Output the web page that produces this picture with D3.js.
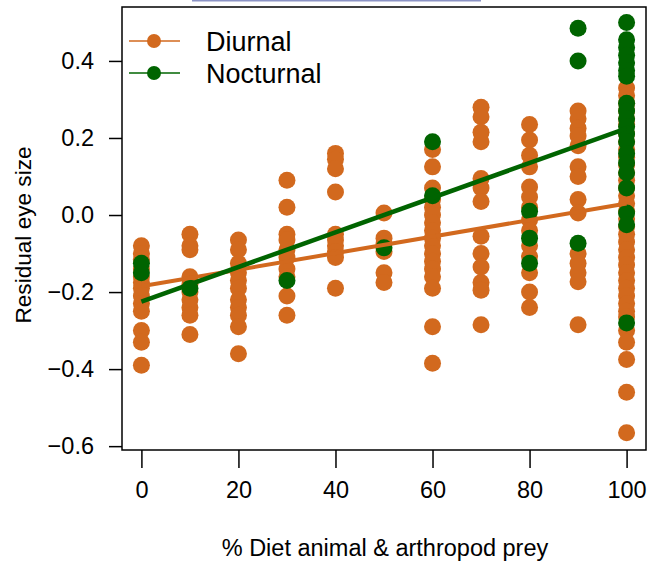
<!DOCTYPE html>
<html>
<head>
<meta charset="utf-8">
<title>Residual eye size vs diet</title>
<style>
  body { margin: 0; background: #fff; }
  svg text { font-family: "Liberation Sans", Arial, Helvetica, sans-serif; fill: #000; }
</style>
</head>
<body>
<div id="chart"></div>
<script src="https://cdn.jsdelivr.net/npm/d3@7"></script>
<script>
// diet levels (% animal & arthropod prey)
const dietLevels = [0, 10, 20, 30, 40, 50, 60, 70, 80, 90, 100];

// residual eye size, one list per diet level
const diurnalByDiet = [
  [-0.08, -0.10, -0.115, -0.14, -0.16, -0.175, -0.19, -0.21, -0.23, -0.25, -0.30, -0.33, -0.39],
  [-0.05, -0.08, -0.09, -0.16, -0.18, -0.20, -0.22, -0.24, -0.26, -0.31],
  [-0.065, -0.09, -0.125, -0.15, -0.17, -0.19, -0.22, -0.24, -0.26, -0.29, -0.36],
  [0.09, 0.02, -0.05, -0.065, -0.09, -0.11, -0.14, -0.16, -0.21, -0.26],
  [0.16, 0.145, 0.12, 0.06, -0.05, -0.065, -0.08, -0.095, -0.11, -0.19],
  [0.005, -0.06, -0.075, -0.095, -0.15, -0.175],
  [0.17, 0.125, 0.07, 0.04, 0.02, 0.0, -0.02, -0.04, -0.06, -0.08, -0.10, -0.12, -0.14, -0.16, -0.19, -0.29, -0.385],
  [0.28, 0.255, 0.215, 0.19, 0.095, 0.07, 0.035, -0.055, -0.10, -0.135, -0.175, -0.195, -0.285],
  [0.235, 0.195, 0.155, 0.125, 0.073, 0.047, 0.02, -0.013, -0.04, -0.08, -0.108, -0.15, -0.2, -0.24],
  [0.27, 0.25, 0.225, 0.205, 0.18, 0.125, 0.10, 0.04, 0.005, -0.10, -0.125, -0.15, -0.173, -0.285],
  [0.33, 0.31, 0.29, 0.27, 0.25, 0.235, 0.21, 0.19, 0.17, 0.15, 0.13, 0.11, 0.09, 0.07, 0.05, 0.03, 0.01,
   -0.01, -0.03, -0.05, -0.07, -0.09, -0.11, -0.13, -0.15, -0.17, -0.19, -0.21, -0.23, -0.25, -0.265,
   -0.30, -0.33, -0.375, -0.46, -0.565]
];

const nocturnalByDiet = [
  [-0.125, -0.15],
  [-0.19],
  [],
  [-0.17],
  [],
  [-0.085],
  [0.19, 0.05],
  [],
  [0.01, -0.06, -0.125],
  [0.485, 0.40, -0.073],
  [0.50, 0.455, 0.435, 0.415, 0.395, 0.375, 0.36, 0.29, 0.27, 0.25, 0.23, 0.21, 0.19, 0.16, 0.135, 0.11,
   0.07, 0.005, -0.025, -0.28]
];

// fitted lines: value at diet 0 and at diet 100
const fitX = [0, 100];
const diurnalFit = [-0.185, 0.03];
const nocturnalFit = [-0.225, 0.225];

const xTicks = [0, 20, 40, 60, 80, 100];
const yTicks = [-0.6, -0.4, -0.2, 0.0, 0.2, 0.4];

const seriesNames = ["Diurnal", "Nocturnal"];
const seriesColors = ["#D2691E", "#006400"];

const width = 658, height = 562;
const box = { left: 122, top: 7, right: 646, bottom: 450 };

const svg = d3.select("#chart").append("svg")
  .attr("width", width)
  .attr("height", height);

// thin strip at the very top of the picture
svg.append("rect")
  .attr("x", 192).attr("y", 0)
  .attr("width", 289).attr("height", 1.5)
  .attr("fill", "#8c94c6");

const x = d3.scaleLinear().domain([-4, 104]).range([box.left, box.right]);
const y = d3.scaleLinear().domain([-0.61, 0.54]).range([box.bottom, box.top]);

function flatten(byDiet) {
  const out = [];
  byDiet.forEach((vals, i) => vals.forEach(v => out.push({ diet: dietLevels[i], eye: v })));
  return out;
}

const diurnal = flatten(diurnalByDiet);
const nocturnal = flatten(nocturnalByDiet);

const r = 8.5;

svg.append("g").selectAll("circle")
  .data(diurnal).enter().append("circle")
  .attr("cx", d => x(d.diet))
  .attr("cy", d => y(d.eye))
  .attr("r", r)
  .attr("fill", seriesColors[0]);

svg.append("g").selectAll("circle")
  .data(nocturnal).enter().append("circle")
  .attr("cx", d => x(d.diet))
  .attr("cy", d => y(d.eye))
  .attr("r", r)
  .attr("fill", seriesColors[1]);

// regression lines
const line = d3.line().x(d => x(d[0])).y(d => y(d[1]));
svg.append("path")
  .attr("d", line(fitX.map((v, i) => [v, diurnalFit[i]])))
  .attr("stroke", seriesColors[0]).attr("stroke-width", 4).attr("fill", "none");
svg.append("path")
  .attr("d", line(fitX.map((v, i) => [v, nocturnalFit[i]])))
  .attr("stroke", seriesColors[1]).attr("stroke-width", 4.5).attr("fill", "none");

// box
svg.append("rect")
  .attr("x", box.left).attr("y", box.top)
  .attr("width", box.right - box.left).attr("height", box.bottom - box.top)
  .attr("fill", "none").attr("stroke", "#000").attr("stroke-width", 1.5);

// axes
const xAxis = d3.axisBottom(x).tickValues(xTicks).tickSize(18).tickPadding(13)
  .tickFormat(d3.format("d"));
const gx = svg.append("g").attr("transform", `translate(0,${box.bottom})`).call(xAxis);
gx.select(".domain").remove();
gx.selectAll(".tick line").attr("stroke-width", 1.5);
gx.selectAll("text").style("font-size", "23.5px").attr("font-family", null);

const yAxis = d3.axisLeft(y).tickValues(yTicks).tickSize(13).tickPadding(15)
  .tickFormat(d => d3.format(".1f")(d).replace("-", "\u2212"));
const gy = svg.append("g").attr("transform", `translate(${box.left},0)`).call(yAxis);
gy.select(".domain").remove();
gy.selectAll(".tick line").attr("stroke-width", 1.5);
gy.selectAll("text").style("font-size", "23.5px").attr("font-family", null);

// axis titles
svg.append("text")
  .attr("x", 385).attr("y", 556)
  .attr("text-anchor", "middle")
  .style("font-size", "23.5px")
  .text("% Diet animal & arthropod prey");

svg.append("text")
  .attr("transform", "translate(31,235) rotate(-90)")
  .attr("text-anchor", "middle")
  .style("font-size", "22.6px")
  .text("Residual eye size");

// legend
const legend = svg.append("g");
seriesNames.forEach((name, i) => {
  const ly = 41 + i * 32;
  legend.append("line")
    .attr("x1", 129).attr("x2", 180).attr("y1", ly).attr("y2", ly)
    .attr("stroke", seriesColors[i]).attr("stroke-width", 1.5);
  legend.append("circle")
    .attr("cx", 154).attr("cy", ly).attr("r", 7)
    .attr("fill", seriesColors[i]);
  legend.append("text")
    .attr("x", 206).attr("y", ly + 9.5)
    .style("font-size", "27px")
    .text(name);
});
</script>
</body>
</html>
